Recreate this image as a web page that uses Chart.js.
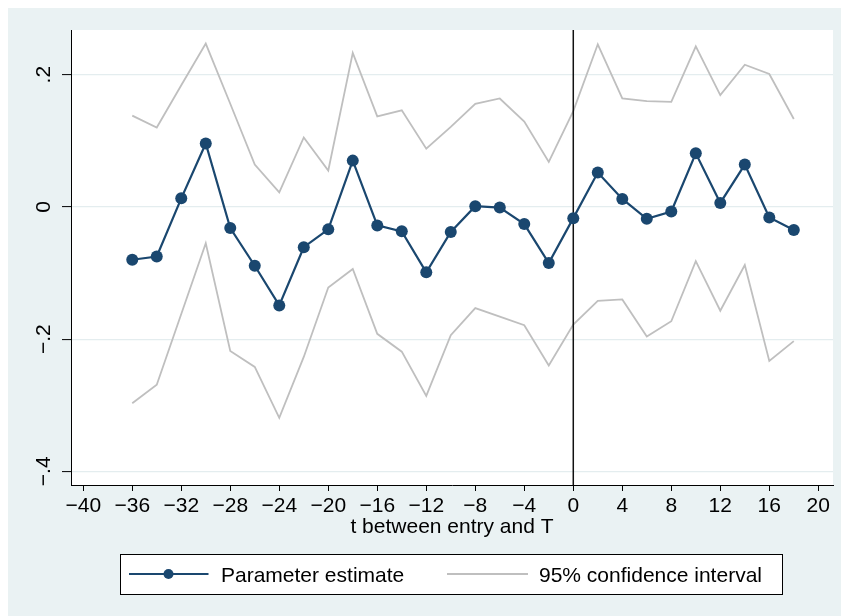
<!DOCTYPE html>
<html>
<head>
<meta charset="utf-8">
<script src="https://cdn.jsdelivr.net/npm/chart.js@4.4.1/dist/chart.umd.min.js"></script>
<style>
  html, body { margin: 0; padding: 0; background: #ffffff; }
  canvas { display: block; }
</style>
</head>
<body>
<canvas id="chart" width="841" height="616"></canvas>
<script>
// Event-study coefficients by period relative to T
const periods = [-36, -34, -32, -30, -28, -26, -24, -22, -20, -18, -16, -14, -12, -10,
                 -8, -6, -4, -2, 0, 2, 4, 6, 8, 10, 12, 14, 16, 18];
const estimate = [-0.080, -0.075, 0.013, 0.096, -0.032, -0.089, -0.149, -0.061, -0.034, 0.070,
                  -0.028, -0.037, -0.099, -0.038, 0.001, -0.001, -0.026, -0.085, -0.017, 0.052,
                  0.012, -0.018, -0.007, 0.081, 0.006, 0.064, -0.016, -0.035];
const ciUpper = [0.138, 0.120, 0.184, 0.247, 0.156, 0.064, 0.022, 0.105, 0.055, 0.233,
                 0.137, 0.146, 0.088, 0.121, 0.156, 0.164, 0.129, 0.068, 0.145, 0.246,
                 0.164, 0.160, 0.159, 0.243, 0.169, 0.215, 0.201, 0.133];
const ciLower = [-0.297, -0.269, -0.162, -0.055, -0.218, -0.242, -0.319, -0.227, -0.122, -0.094,
                 -0.192, -0.219, -0.286, -0.194, -0.153, -0.166, -0.179, -0.240, -0.178, -0.142,
                 -0.140, -0.196, -0.173, -0.082, -0.157, -0.088, -0.233, -0.203];

const xTickValues = [-40, -36, -32, -28, -24, -20, -16, -12, -8, -4, 0, 4, 8, 12, 16, 20];
const xTickLabels = ['\u221240', '\u221236', '\u221232', '\u221228', '\u221224', '\u221220', '\u221216',
                     '\u221212', '\u22128', '\u22124', '0', '4', '8', '12', '16', '20'];
const yTickValues = [-0.4, -0.2, 0, 0.2];
const yTickLabels = ['\u2212.4', '\u2212.2', '0', '.2'];

const seriesLabels = ['Parameter estimate', '95% confidence interval'];
const xTitle = 't between entry and T';
const referenceX = 0;

const NAVY = '#1a476f';
const GREY = '#bfbfbf';
const BG = '#eaf2f3';
const GRID = '#e4edef';
const FONT = '"Liberation Sans", Arial, Helvetica, sans-serif';

const toPoints = ys => periods.map((p, i) => ({ x: p, y: ys[i] }));

// Outer region, inner plot region
const backdrop = {
  id: 'backdrop',
  beforeDraw(chart) {
    const { ctx, width, height, chartArea: a } = chart;
    ctx.save();
    ctx.fillStyle = '#ffffff';
    ctx.fillRect(0, 0, width, height);
    ctx.fillStyle = BG;
    ctx.fillRect(8, 8, width - 8, height - 8);
    ctx.fillStyle = '#ffffff';
    ctx.fillRect(a.left, a.top, a.right - a.left, a.bottom - a.top);
    ctx.restore();
  }
};

// Vertical reference line at T, under the estimate series
const refLine = {
  id: 'refLine',
  beforeDatasetDraw(chart, args) {
    if (args.index !== 0) return;
    const { ctx, chartArea: a, scales } = chart;
    const px = scales.x.getPixelForValue(referenceX);
    ctx.save();
    ctx.strokeStyle = '#111111';
    ctx.lineWidth = 1.5;
    ctx.beginPath();
    ctx.moveTo(px, a.top);
    ctx.lineTo(px, a.bottom);
    ctx.stroke();
    ctx.restore();
  }
};

// Boxed legend below the axis title
const boxLegend = {
  id: 'boxLegend',
  afterDraw(chart) {
    const { ctx } = chart;
    const ds = chart.data.datasets;
    const box = { x: 120.5, y: 554.5, w: 662, h: 40 };
    const cy = 574;
    ctx.save();
    ctx.fillStyle = '#ffffff';
    ctx.fillRect(box.x, box.y, box.w, box.h);
    ctx.strokeStyle = '#000000';
    ctx.lineWidth = 1;
    ctx.strokeRect(box.x, box.y, box.w, box.h);

    // item 1: line with marker
    ctx.strokeStyle = ds[0].borderColor;
    ctx.lineWidth = 2;
    ctx.beginPath();
    ctx.moveTo(129, cy);
    ctx.lineTo(208.5, cy);
    ctx.stroke();
    ctx.fillStyle = ds[0].pointBackgroundColor;
    ctx.beginPath();
    ctx.arc(168.5, cy, 5, 0, Math.PI * 2);
    ctx.fill();

    // item 2: plain line
    ctx.strokeStyle = ds[1].borderColor;
    ctx.lineWidth = 1.8;
    ctx.beginPath();
    ctx.moveTo(447, cy);
    ctx.lineTo(528, cy);
    ctx.stroke();

    ctx.fillStyle = '#000000';
    ctx.font = '21px ' + FONT;
    ctx.textBaseline = 'alphabetic';
    ctx.textAlign = 'left';
    ctx.fillText(ds[0].label, 221, 582.3);
    ctx.fillText(ds[1].label, 539, 582.3);
    ctx.restore();
  }
};

new Chart(document.getElementById('chart'), {
  type: 'line',
  data: {
    datasets: [
      {
        label: seriesLabels[0],
        data: toPoints(estimate),
        borderColor: NAVY,
        borderWidth: 2.2,
        pointRadius: 6,
        pointBorderWidth: 0,
        pointBackgroundColor: NAVY,
        pointBorderColor: NAVY,
        tension: 0
      },
      {
        label: seriesLabels[1],
        data: toPoints(ciUpper),
        borderColor: GREY,
        borderWidth: 1.8,
        pointRadius: 0,
        tension: 0
      },
      {
        label: seriesLabels[1],
        data: toPoints(ciLower),
        borderColor: GREY,
        borderWidth: 1.8,
        pointRadius: 0,
        tension: 0
      }
    ]
  },
  options: {
    responsive: false,
    animation: false,
    events: [],
    layout: { padding: { left: 0, right: 8, top: 30, bottom: 71 } },
    plugins: {
      legend: { display: false },
      tooltip: { enabled: false }
    },
    scales: {
      x: {
        type: 'linear',
        position: 'bottom',
        min: -41,
        max: 21.2,
        afterBuildTicks: s => { s.ticks = xTickValues.map(v => ({ value: v })); },
        afterFit: s => { s.height = 60; },
        grid: {
          drawOnChartArea: false,
          drawTicks: true,
          tickLength: 6,
          tickColor: '#000000',
          tickWidth: 1
        },
        border: { display: true, color: '#000000', width: 1 },
        ticks: {
          padding: 2.5,
          color: '#000000',
          font: { family: FONT, size: 21 },
          maxRotation: 0,
          autoSkip: false,
          callback: v => xTickLabels[xTickValues.indexOf(v)]
        },
        title: {
          display: true,
          text: xTitle,
          color: '#000000',
          font: { family: FONT, size: 21 },
          padding: { top: 0, bottom: 5 }
        }
      },
      y: {
        type: 'linear',
        position: 'left',
        min: -0.4207,
        max: 0.2676,
        afterBuildTicks: s => { s.ticks = yTickValues.map(v => ({ value: v })); },
        afterFit: s => { s.width = 71; },
        grid: {
          color: GRID,
          lineWidth: 1.2,
          drawTicks: true,
          tickLength: 9,
          tickColor: '#000000',
          tickWidth: 1
        },
        border: { display: true, color: '#000000', width: 1 },
        ticks: {
          padding: 3,
          color: '#000000',
          font: { family: FONT, size: 21 },
          minRotation: 90,
          maxRotation: 90,
          crossAlign: 'center',
          autoSkip: false,
          callback: v => yTickLabels[yTickValues.indexOf(v)]
        }
      }
    }
  },
  plugins: [backdrop, refLine, boxLegend]
});
</script>
</body>
</html>
